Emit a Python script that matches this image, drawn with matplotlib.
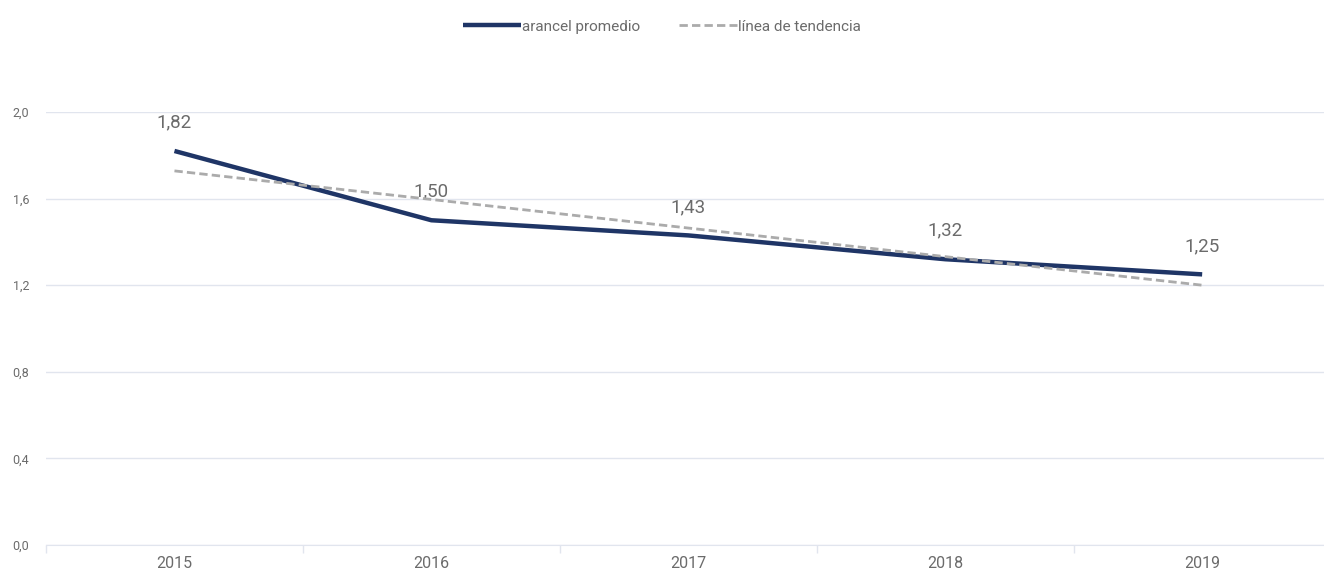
import numpy as np
import matplotlib
matplotlib.use('Agg')
import matplotlib.pyplot as plt
from matplotlib import font_manager

years = ['2015', '2016', '2017', '2018', '2019']
arancel = [1.82, 1.50, 1.43, 1.32, 1.25]
y_ticks = [0.0, 0.4, 0.8, 1.2, 1.6, 2.0]

names = {f.name for f in font_manager.fontManager.ttflist}
fam = 'Liberation Sans Narrow' if 'Liberation Sans Narrow' in names else 'Roboto'
plt.rcParams['font.family'] = [fam, 'DejaVu Sans']

navy = '#1f3566'
grey_txt = '#6b6b6b'
grid_c = '#e1e5ee'

x = np.arange(len(years))
slope, inter = np.polyfit(x, arancel, 1)
trend = slope * x + inter

fig = plt.figure(figsize=(13.24, 5.77), dpi=100)
ax = fig.add_axes([46 / 1324, 32 / 577, 1 - 46 / 1324 + 0.005, 433 / 577])

ax.plot(x, arancel, color=navy, lw=3.2, solid_capstyle='butt', label='arancel promedio', zorder=3)
ax.plot(x, trend, color='#ababab', lw=2, ls=(0, (3, 1.5)), label='línea de tendencia', zorder=4)

for xi, v in zip(x, arancel):
    ax.annotate(f'{v:.2f}'.replace('.', ','), (xi, v), xytext=(0, 14), textcoords='offset points',
                ha='center', va='bottom', fontsize=13.5, color=grey_txt)

ax.set_xlim(-0.5, len(years) - 0.5)
ax.set_ylim(0, 2.0)
ax.set_yticks(y_ticks)
ax.set_yticklabels([f'{t:.1f}'.replace('.', ',') for t in y_ticks], fontsize=9, color=grey_txt)
ax.set_xticks(x)
ax.set_xticklabels(years, fontsize=11.5, color=grey_txt)
ax.set_xticks(np.arange(-0.5, len(years)), minor=True)
ax.tick_params(axis='x', which='major', length=0, pad=8)
ax.tick_params(axis='x', which='minor', length=6, color=grid_c, width=1)
ax.tick_params(axis='y', length=0, pad=12)
ax.grid(axis='y', color=grid_c, lw=1)
ax.set_axisbelow(True)
for s in ['top', 'right', 'left']:
    ax.spines[s].set_visible(False)
ax.spines['bottom'].set_color(grid_c)

fig.legend(loc='upper center', bbox_to_anchor=(0.5, 0.99), ncol=2, frameon=False,
           fontsize=11, labelcolor=grey_txt, handlelength=3.8, handletextpad=0.1,
           columnspacing=2.5)

fig.savefig('out.png', dpi=100)
